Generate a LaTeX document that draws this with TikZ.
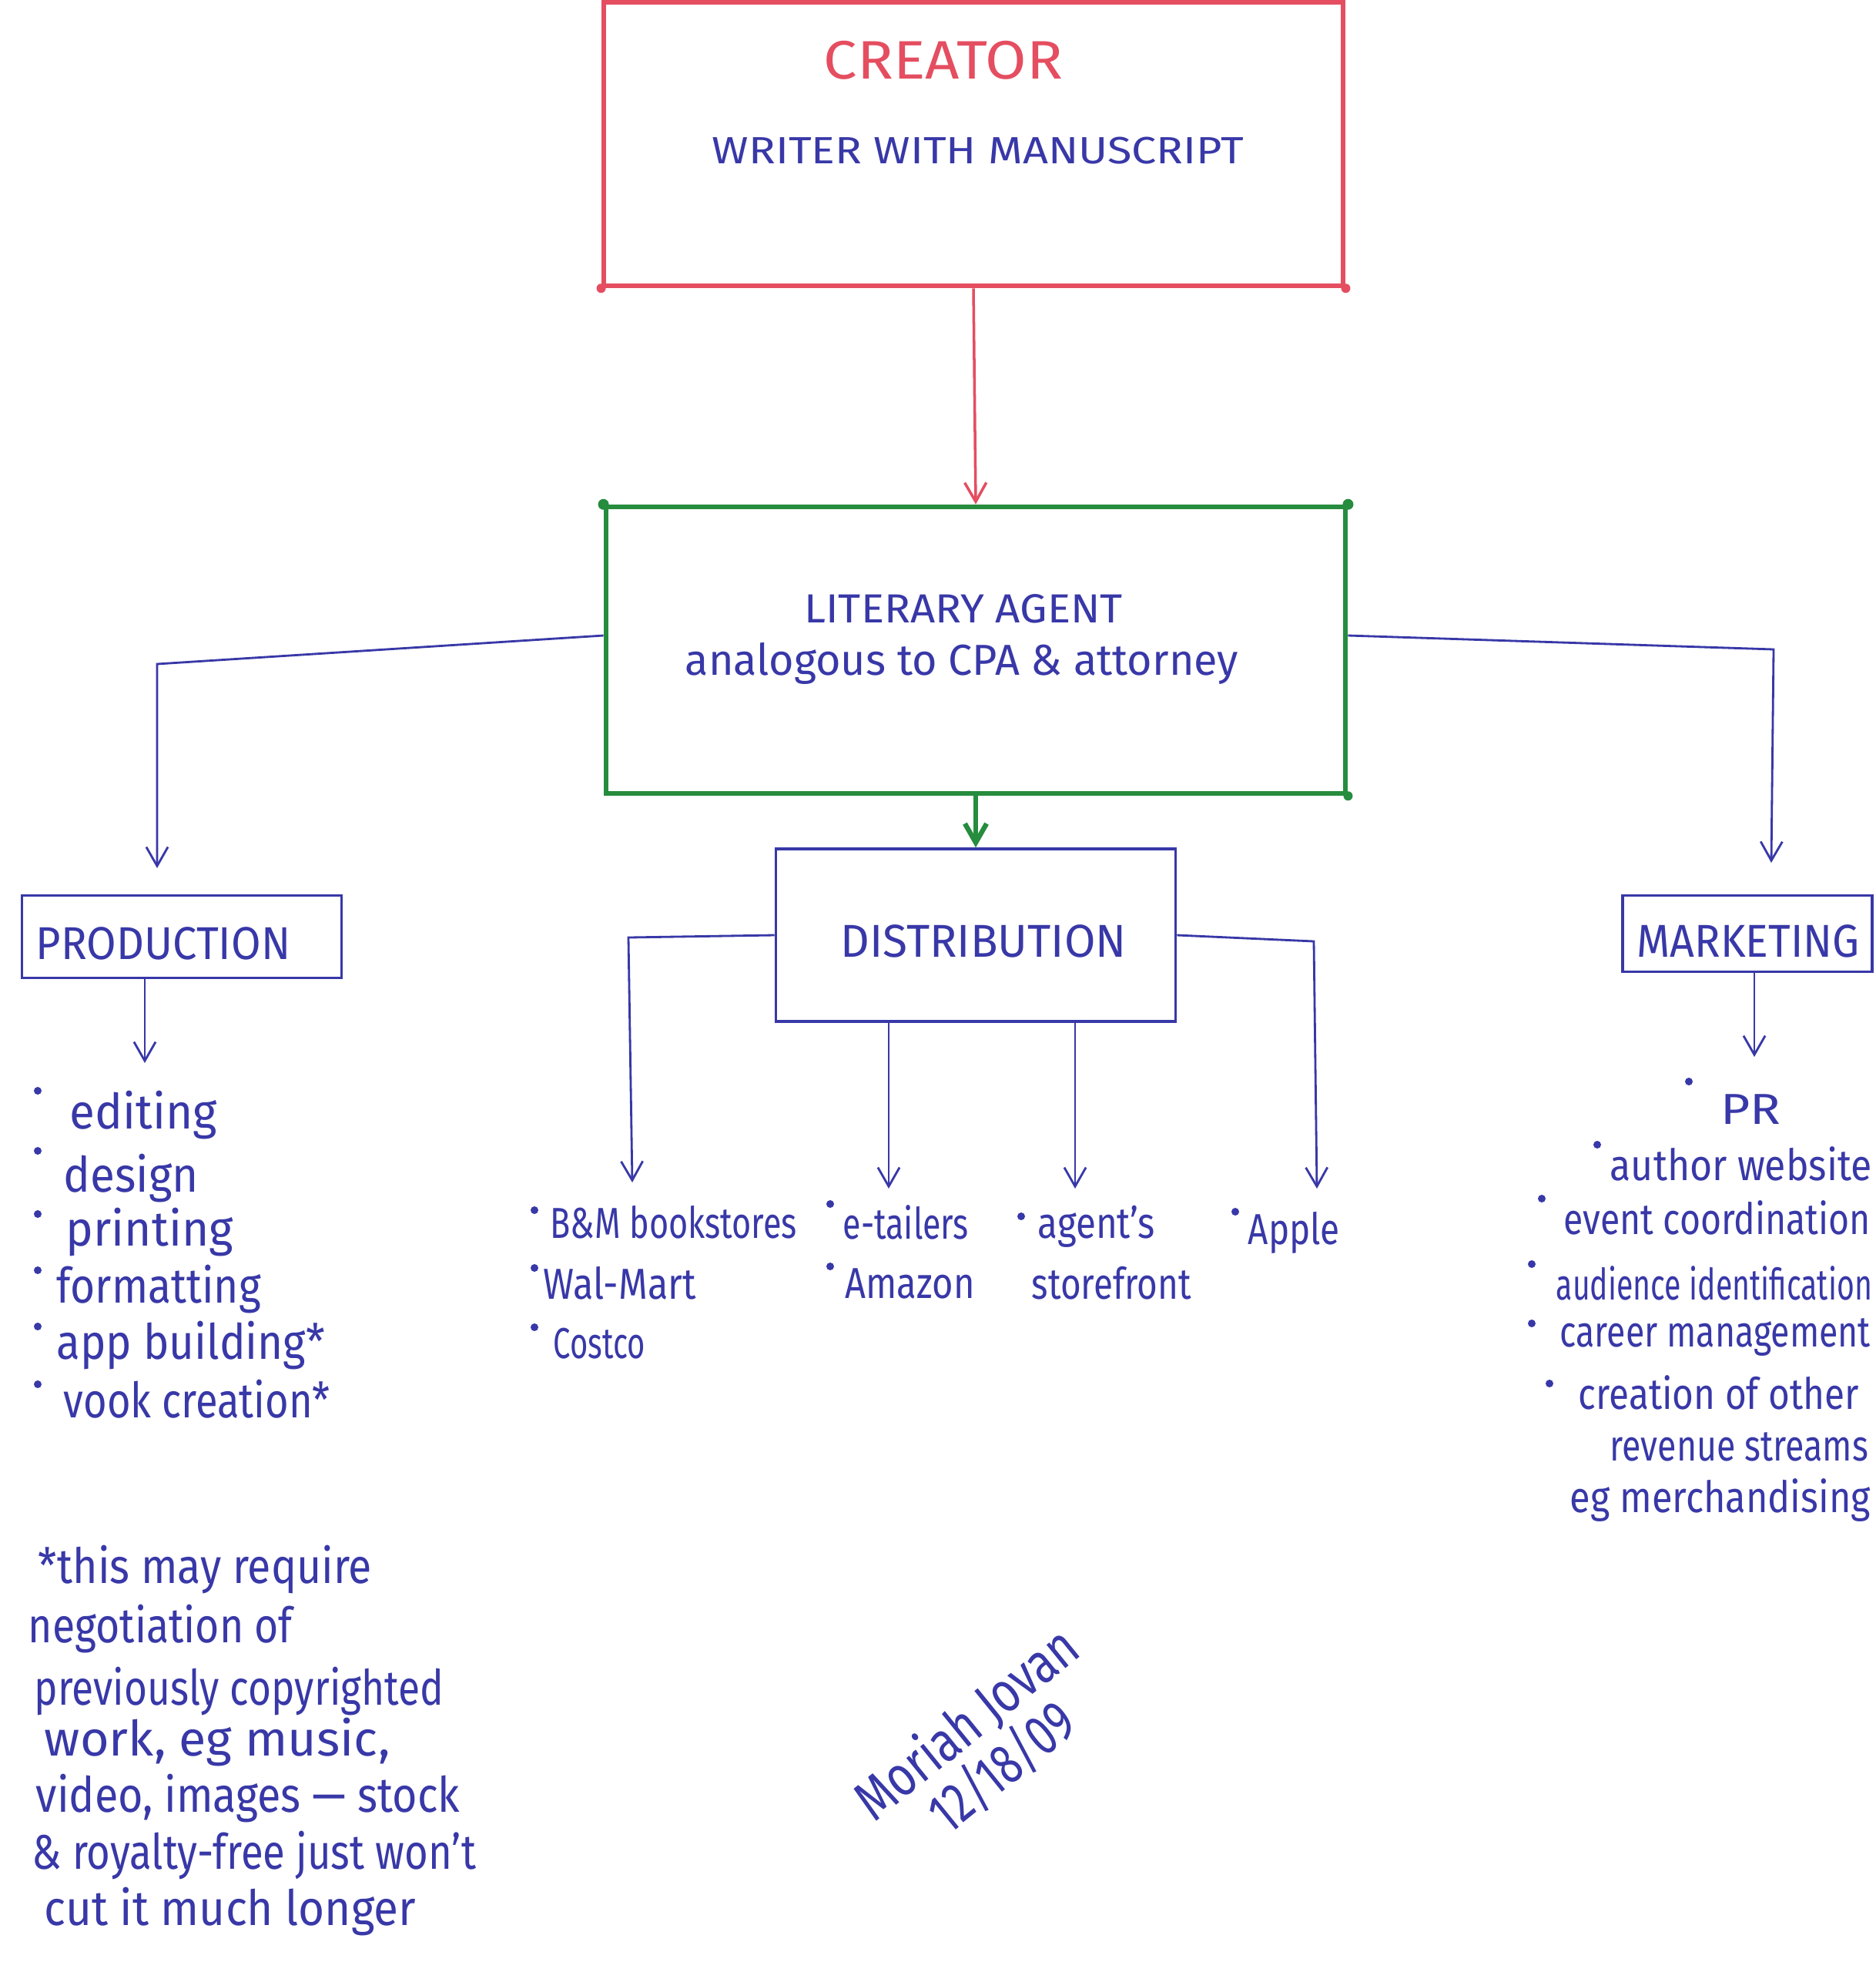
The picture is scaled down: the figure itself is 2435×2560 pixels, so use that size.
\documentclass[tikz,border=0pt]{standalone}
\usepackage{fontspec}
\setmainfont{Fira Sans}
\usepackage{graphicx}
\usetikzlibrary{arrows.meta,calc}
\definecolor{penred}{RGB}{228,78,96}
\definecolor{pengreen}{RGB}{38,140,62}
\definecolor{penblue}{RGB}{56,56,168}
\newcommand\fw[2]{\resizebox{#1}{\height}{#2}}
\begin{document}
\begin{tikzpicture}[x=0.01cm,y=-0.01cm,
  fs/.style={font=\fontsize{#1}{#1}\selectfont},
  redbox/.style={draw=penred, line width=1.8pt, inner sep=0},
  greenbox/.style={draw=pengreen, line width=1.8pt, inner sep=0},
  bluebox/.style={draw=penblue, line width=1pt, inner sep=0},
  txt/.style={text=penblue, inner sep=0},
  lt/.style={txt, anchor=west},
  redline/.style={draw=penred, line width=1pt},
  greenline/.style={draw=pengreen, line width=1.8pt},
  link/.style={draw=penblue, line width=0.8pt},
  tip/.style={-{Straight Barb[length=7pt,width=8pt]}},
  bul/.style={fill=penblue}
]
\fill[white] (0,0) rectangle (2435,2560);
\useasboundingbox (0,0) rectangle (2435,2560);

% ---- main boxes ----
\node[redbox, minimum width=9.6cm, minimum height=3.68cm] (creator) at (1264,187) {};
\node[txt, text=penred, fs=20] (creatorT) at (1225,78) {\fw{3.1cm}{CREATOR}};
\node[txt, fs=14] (creatorS) at (1270,196) {\fw{6.9cm}{WRITER WITH MANUSCRIPT}};

\node[greenbox, minimum width=9.6cm, minimum height=3.72cm] (agent) at (1267,844) {};
\node[txt, fs=15] (agentT) at (1251,790) {\fw{4.13cm}{LITERARY AGENT}};
\node[txt, fs=16] (agentS) at (1249,861) {\fw{7.18cm}{analogous to CPA \& attorney}};
\fill[pengreen] (agent.north west) circle (7);
\fill[pengreen] (agent.north east) circle (7);
\fill[pengreen] (agent.south east) circle (6);
\fill[penred] (creator.south west) circle (6);
\fill[penred] (creator.south east) circle (6);

\node[bluebox, minimum width=5.19cm, minimum height=2.24cm] (dist) at (1267,1214) {};
\node[txt, fs=17] (distT) at (1277,1222) {\fw{3.71cm}{DISTRIBUTION}};
\node[bluebox, minimum width=4.15cm, minimum height=1.07cm] (prod) at (236,1216) {};
\node[txt, fs=17] (prodT) at (212,1225) {\fw{3.30cm}{PRODUCTION}};
\node[bluebox, minimum width=3.24cm, minimum height=0.99cm] (mkt) at (2269,1212) {};
\node[txt, fs=17] (mktT) at (2270,1222) {\fw{2.89cm}{MARKETING}};

% ---- connectors ----
\draw[redline, tip] (creator.south) -- (agent.north);
\draw[greenline, tip] (agent.south) -- (dist.north);

\coordinate (pA) at (204,862);
\coordinate (pB) at (204,1127);
\draw[link, tip] ($(agent.west)+(0,-19)$) -- (pA) -- (pB);
\coordinate (mA) at (2303,843);
\coordinate (mB) at (2300,1120);
\draw[link, tip] ($(agent.east)+(0,-19)$) -- (mA) -- (mB);

\coordinate (pl) at (188,1380);
\draw[link, tip] (pl |- prod.south) -- (pl);
\coordinate (ml) at (2278,1372);
\draw[link, tip] (ml |- mkt.south) -- (ml);

\coordinate (dl) at (816,1217);
\coordinate (dlE) at (821,1535);
\draw[link, tip] (dist.west) -- (dl) -- (dlE);
\coordinate (dr) at (1706,1222);
\coordinate (drE) at (1710,1543);
\draw[link, tip] (dist.east) -- (dr) -- (drE);
\coordinate (d1) at (1154,1543);
\draw[link, tip] (d1 |- dist.south) -- (d1);
\coordinate (d2) at (1396,1543);
\draw[link, tip] (d2 |- dist.south) -- (d2);

% ---- production list ----
\foreach \yy in {1416,1494,1576,1649,1722,1797} \fill[bul] (49,\yy) circle (5);
\node[lt, fs=18] (p1) at (90,1448) {\fw{1.91cm}{editing}};
\node[lt, fs=18] (p2) at (82,1530) {\fw{1.75cm}{design}};
\node[lt, fs=18] (p3) at (85,1600) {\fw{2.17cm}{printing}};
\node[lt, fs=18] (p4) at (73,1674) {\fw{2.65cm}{formatting}};
\node[lt, fs=18] (p5) at (73,1747) {\fw{3.48cm}{app building*}};
\node[lt, fs=18] (p6) at (82,1816) {\fw{3.46cm}{vook creation*}};

% ---- distribution lists ----
\foreach \xx/\yy in {694/1571,694/1646,694/1723,1078/1563,1078/1644,1326/1579,1604/1573} \fill[bul] (\xx,\yy) circle (5);
\node[lt, fs=16] (b1) at (714,1587) {\fw{3.20cm}{B\&M bookstores}};
\node[lt, fs=16] (b2) at (705,1666) {\fw{1.98cm}{Wal-Mart}};
\node[lt, fs=16] (b3) at (718,1744) {\fw{1.19cm}{Costco}};
\node[lt, fs=16] (e1) at (1094,1587) {\fw{1.63cm}{e-tailers}};
\node[lt, fs=16] (e2) at (1097,1666) {\fw{1.68cm}{Amazon}};
\node[lt, fs=16] (s1) at (1347,1592) {\fw{1.52cm}{agent's}};
\node[lt, fs=16] (s2) at (1339,1666) {\fw{2.07cm}{storefront}};
\node[lt, fs=16] (a1) at (1620,1600) {\fw{1.19cm}{Apple}};

% ---- marketing list ----
\foreach \xx/\yy in {2193/1404,2074/1486,2002/1556,1989/1641,1989/1718,2012/1796} \fill[bul] (\xx,\yy) circle (5);
\node[txt, fs=16] (m1) at (2273,1440) {\fw{0.78cm}{PR}};
\node[lt, fs=16] (m2) at (2090,1511) {\fw{3.40cm}{author website}};
\node[lt, fs=16] (m3) at (2030,1581) {\fw{3.98cm}{event coordination}};
\node[lt, fs=16] (m4) at (2020,1666) {\fw{4.10cm}{audience identification}};
\node[lt, fs=16] (m5) at (2025,1736) {\fw{4.03cm}{career management}};
\node[lt, fs=16] (m6) at (2049,1808) {\fw{3.64cm}{creation of other}};
\node[lt, fs=16] (m7) at (2090,1878) {\fw{3.35cm}{revenue streams}};
\node[lt, fs=16] (m8) at (2038,1948) {\fw{3.90cm}{eg merchandising}};

% ---- footnote ----
\node[lt, fs=18] (f1) at (49,2038) {\fw{4.33cm}{*this may require}};
\node[lt, fs=18] (f2) at (36,2115) {\fw{3.43cm}{negotiation of}};
\node[lt, fs=18] (f3) at (44,2196) {\fw{5.31cm}{previously copyrighted}};
\node[lt, fs=18] (f4) at (57,2262) {\fw{4.49cm}{work, eg music,}};
\node[lt, fs=18] (f5) at (46,2335) {\fw{5.50cm}{video, images — stock}};
\node[lt, fs=18] (f6) at (41,2409) {\fw{5.76cm}{\& royalty-free just won't}};
\node[lt, fs=18] (f7) at (57,2482) {\fw{4.82cm}{cut it much longer}};

% ---- signature (one rotated text block) ----
\node[txt, font=\fontsize{21}{19}\selectfont, rotate=39, align=center] (sig) at (1278,2266)
  {\fw{3.48cm}{Moriah Jovan}\\\fw{2.20cm}{12/18/09}};
\end{tikzpicture}
\end{document}
